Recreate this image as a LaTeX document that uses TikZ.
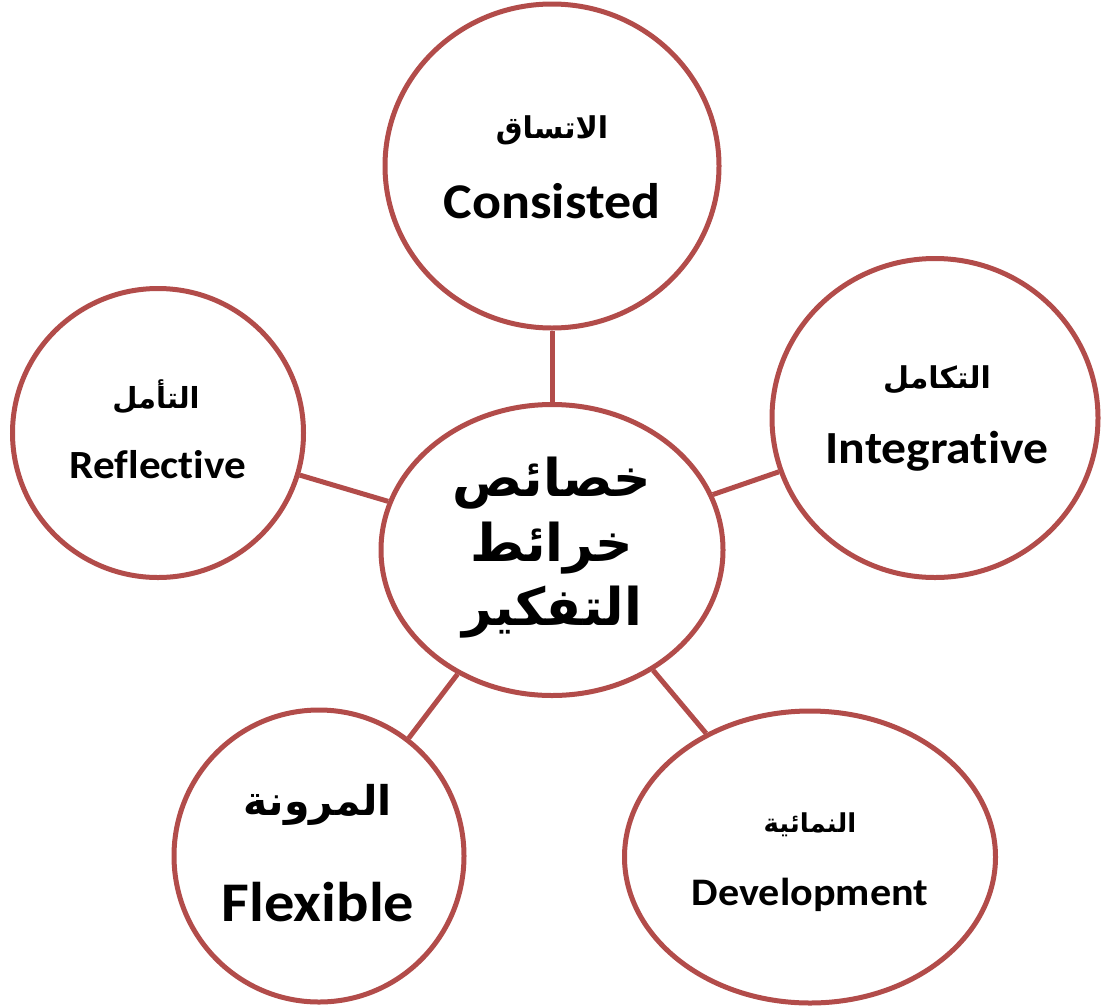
\documentclass[tikz,border=0pt]{standalone}
\usepackage{fontspec}
\usepackage{graphicx}
\setmainfont{Carlito}[Ligatures=NoCommon]
\newfontfamily\arabicfont[Script=Arabic]{DejaVu Sans}
\TeXXeTstate=1
\usetikzlibrary{shapes.geometric}
\definecolor{ring}{HTML}{B24C4A}
\tikzset{
  bubble/.style={draw=ring, line width=5pt, ellipse, inner sep=0pt, fill=white},
  link/.style={draw=ring, line width=5pt},
  en/.style={anchor=base, inner sep=0pt},
  ar/.style={anchor=center, inner sep=0pt},
}
\newcommand{\AR}[1]{\beginR #1\endR}
\newcommand{\EN}[2]{{\fontsize{#1}{#1}\selectfont\bfseries\scalebox{1.08}[1]{#2}}}
\newcommand{\ARF}[2]{{\arabicfont\bfseries\fontsize{#1}{#1}\selectfont\AR{#2}}}
\begin{document}
\begin{tikzpicture}[x=1pt,y=-1pt]
\useasboundingbox (0,0) rectangle (1102,1007);
% circles
\node[bubble, minimum width=342pt, minimum height=291pt] (c) at (552,550) {};
\node[bubble, minimum width=334pt, minimum height=324pt] (t) at (552,166) {};
\node[bubble, minimum width=326pt, minimum height=319pt] (r) at (935,418) {};
\node[bubble, minimum width=291pt, minimum height=289pt] (l) at (158,433) {};
\node[bubble, minimum width=290pt, minimum height=292pt] (bl) at (319,856) {};
\node[bubble, minimum width=371pt, minimum height=292pt] (br) at (810,857) {};
% connectors
\draw[link] (c) -- (t);
\draw[link] (c) -- (r);
\draw[link] (c) -- (l);
\draw[link] (c) -- (bl);
\draw[link] (c) -- (br);
% texts
\node[ar] (ta) at (552,130) {\ARF{30}{الاتساق}};
\node[en] (te) at (552,218) {\EN{50}{Consisted}};
\node[ar] (ra) at (937,380) {\ARF{30}{التكامل}};
\node[en] (re) at (937,463) {\EN{46}{Integrative}};
\node[ar] (la) at (156,397) {\ARF{29}{التأمل}};
\node[en] (le) at (158,478) {\EN{40}{Reflective}};
\node[ar] (bla) at (318,805) {\ARF{41}{المرونة}};
\node[en] (ble) at (318,921) {\EN{56}{Flexible}};
\node[ar] (bra) at (810,825) {\ARF{26}{النمائية}};
\node[en] (bre) at (810,905) {\EN{39}{Development}};
\node[ar] (c1) at (552,483) {\ARF{52}{خصائص}};
\node[ar] (c2) at (552,548) {\ARF{52}{خرائط}};
\node[ar] (c3) at (552,612) {\ARF{52}{التفكير}};
\end{tikzpicture}
\end{document}
